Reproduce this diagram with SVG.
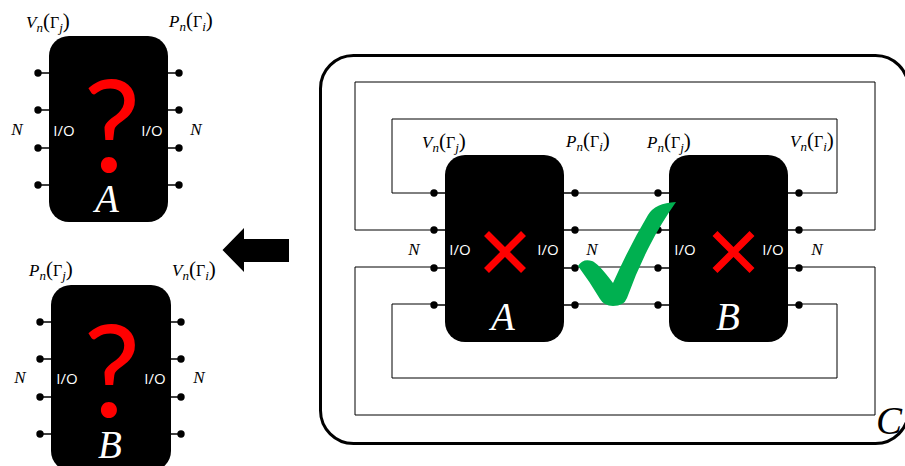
<svg xmlns="http://www.w3.org/2000/svg" width="905" height="466" viewBox="0 0 905 466">
<style>
.box{fill:#000}
.stub{stroke:#000;stroke-width:1.5;fill:none}
.wire{stroke:#000;stroke-width:1;fill:none}
.dot{fill:#000}
.m{font-family:"Liberation Serif",serif;font-size:17px;fill:#000}
.i{font-style:italic}
.s{font-size:13px;font-style:italic}
.p{font-size:21px;font-weight:normal}
.g{font-size:16px}
.n{font-family:"Liberation Serif",serif;font-style:italic;font-size:17px;fill:#000;text-anchor:middle}
.io{font-family:"Open Sans",sans-serif;font-size:15px;fill:#fff;text-anchor:middle}
.big{font-family:"Liberation Serif",serif;font-style:italic;font-size:39px;fill:#fff;text-anchor:middle}
.q{font-family:"Lato",sans-serif;font-size:128px;fill:#f00;text-anchor:middle}
.x{stroke:#f00;stroke-width:7;fill:none}
</style>
<defs>
<g id="pins">
<path class="stub" d="M-11 37H0M-11 74H0M-11 112H0M-11 149H0M119 37H130M119 74H130M119 112H130M119 149H130"/>
<circle class="dot" cx="-11" cy="37" r="3.700"/><circle class="dot" cx="-11" cy="74" r="3.700"/><circle class="dot" cx="-11" cy="112" r="3.700"/><circle class="dot" cx="-11" cy="149" r="3.700"/>
<circle class="dot" cx="130" cy="37" r="3.700"/><circle class="dot" cx="130" cy="74" r="3.700"/><circle class="dot" cx="130" cy="112" r="3.700"/><circle class="dot" cx="130" cy="149" r="3.700"/>
</g>
<path id="cross" class="x" d="M-18.500 -18.500L18.500 18.500M18.500 -18.500L-18.500 18.500"/>
</defs>

<g id="connectors">
<rect x="320.500" y="55.500" width="588" height="388" rx="33" fill="none" stroke="#000" stroke-width="3"/>
<path class="wire" d="M434 193H392V119H837V193H799"/>
<path class="wire" d="M434 230H355V82H875V230H799"/>
<path class="wire" d="M434 267H355V415H875V267H799"/>
<path class="wire" d="M434 304H392V378H837V304H799"/>
<path class="wire" d="M575 193H658M575 230H658M575 267H658M575 304H658"/>
</g>

<g id="node-a-top">
<rect class="box" x="49" y="36" width="119" height="186" rx="20"/>
<use href="#pins" x="49" y="36"/>
<text class="q" x="112" y="172">?</text>
<text class="io" x="64" y="136">I/O</text><text class="io" x="152" y="136">I/O</text>
<text class="big" x="107" y="212">A</text>
<text class="n" x="17" y="135">N</text><text class="n" x="196" y="135">N</text>
<text class="m" x="26" y="28"><tspan class="i">V</tspan><tspan class="s" dy="4">n</tspan><tspan class="p" dy="-4">(</tspan><tspan class="g">Γ</tspan><tspan class="s" dy="4">j</tspan><tspan class="p" dy="-4">)</tspan></text>
<text class="m" x="169" y="27"><tspan class="i">P</tspan><tspan class="s" dy="4">n</tspan><tspan class="p" dy="-4">(</tspan><tspan class="g">Γ</tspan><tspan class="s" dy="4">i</tspan><tspan class="p" dy="-4">)</tspan></text>
</g>

<g id="node-b-top">
<rect class="box" x="51" y="285" width="120" height="186" rx="20"/>
<use href="#pins" x="51" y="285"/>
<text class="q" x="112" y="417">?</text>
<text class="io" x="67" y="384">I/O</text><text class="io" x="155" y="384">I/O</text>
<text class="big" x="110" y="458">B</text>
<text class="n" x="20" y="383">N</text><text class="n" x="199" y="383">N</text>
<text class="m" x="29" y="276"><tspan class="i">P</tspan><tspan class="s" dy="4">n</tspan><tspan class="p" dy="-4">(</tspan><tspan class="g">Γ</tspan><tspan class="s" dy="4">j</tspan><tspan class="p" dy="-4">)</tspan></text>
<text class="m" x="172" y="276"><tspan class="i">V</tspan><tspan class="s" dy="4">n</tspan><tspan class="p" dy="-4">(</tspan><tspan class="g">Γ</tspan><tspan class="s" dy="4">i</tspan><tspan class="p" dy="-4">)</tspan></text>
</g>

<g id="arrow"><path d="M222.500 250L244 228V239H289V262H244V272Z" fill="#000"/></g>

<g id="node-a">
<rect class="box" x="445" y="155" width="119" height="187" rx="20"/>
<use href="#pins" x="445" y="156"/>
<use href="#cross" x="505" y="252"/>
<text class="io" x="460" y="255">I/O</text><text class="io" x="548" y="255">I/O</text>
<text class="big" x="503" y="330">A</text>
<text class="n" x="414" y="255">N</text>
<text class="n" x="592" y="255">N</text>
<text class="m" x="422" y="148"><tspan class="i">V</tspan><tspan class="s" dy="4">n</tspan><tspan class="p" dy="-4">(</tspan><tspan class="g">Γ</tspan><tspan class="s" dy="4">j</tspan><tspan class="p" dy="-4">)</tspan></text>
<text class="m" x="566" y="147"><tspan class="i">P</tspan><tspan class="s" dy="4">n</tspan><tspan class="p" dy="-4">(</tspan><tspan class="g">Γ</tspan><tspan class="s" dy="4">i</tspan><tspan class="p" dy="-4">)</tspan></text>
</g>

<g id="node-b">
<rect class="box" x="669" y="155" width="119" height="187" rx="20"/>
<use href="#pins" x="669" y="156"/>
<use href="#cross" x="733.500" y="252"/>
<text class="io" x="685" y="255">I/O</text><text class="io" x="773" y="255">I/O</text>
<text class="big" x="728" y="330">B</text>
<text class="n" x="817" y="255">N</text>
<text class="m" x="647" y="148"><tspan class="i">P</tspan><tspan class="s" dy="4">n</tspan><tspan class="p" dy="-4">(</tspan><tspan class="g">Γ</tspan><tspan class="s" dy="4">j</tspan><tspan class="p" dy="-4">)</tspan></text>
<text class="m" x="790" y="147"><tspan class="i">V</tspan><tspan class="s" dy="4">n</tspan><tspan class="p" dy="-4">(</tspan><tspan class="g">Γ</tspan><tspan class="s" dy="4">i</tspan><tspan class="p" dy="-4">)</tspan></text>
</g>

<g id="check"><path d="M578 266Q583 258 592 261Q598 263 613 283Q630 245 648 215Q655 203 676 202Q660 225 650 245Q637 270 627 298Q624 306 613 306Q604 306 600 299Q590 282 578 266Z" fill="#00b050"/></g>

<text id="label-c" class="big" style="fill:#000" x="889" y="434">C</text>
</svg>
